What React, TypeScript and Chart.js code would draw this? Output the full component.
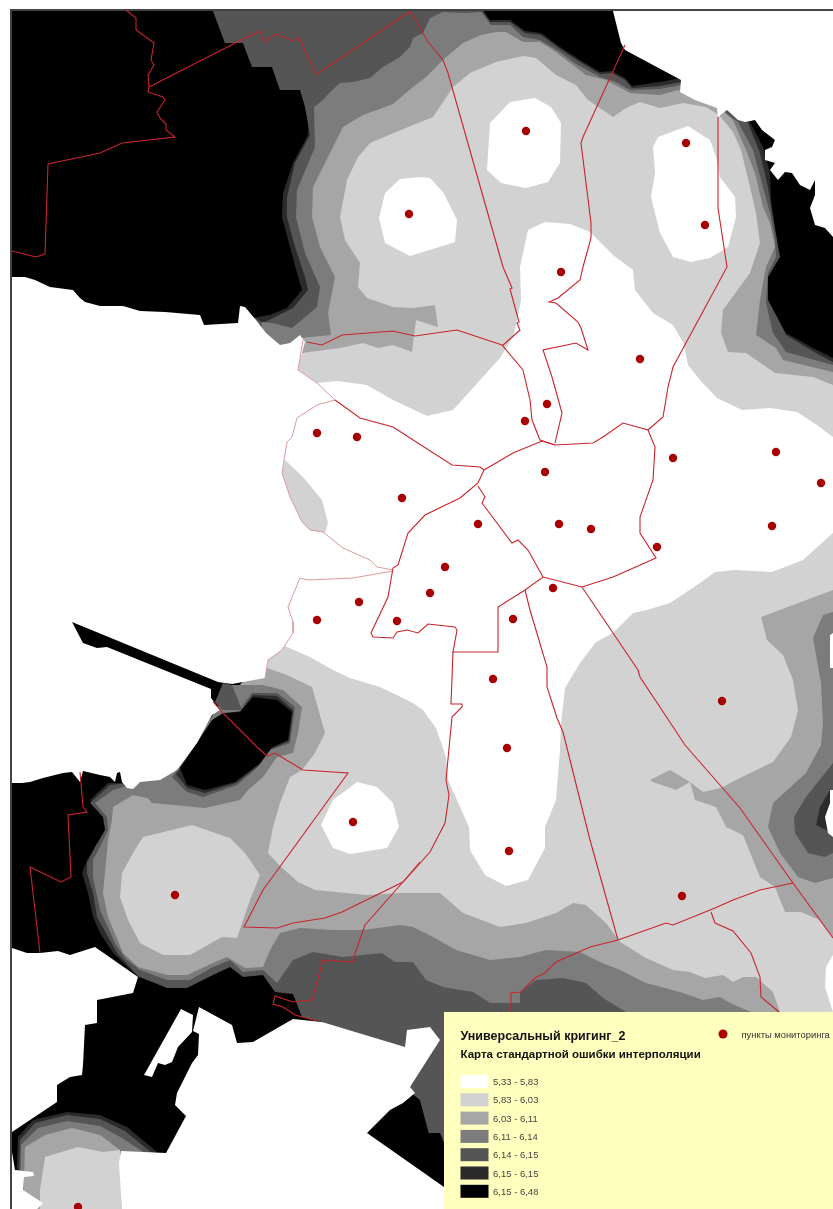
import React, { useEffect, useRef } from "react";
import { Chart, registerables } from "chart.js";

Chart.register(...registerables);

type P = number[];

const frameOutline: P[] = [[11, 1209], [11, 10], [833, 10]];
const territory: P[] = [[12, 11], [833, 11], [833, 1209], [12, 1209]];

const level615: P[] = [[213,11],[483,11],[490,20],[510,20],[525,31],[541,33],[560,47],[580,60],[600,72],[612,71],[625,78],[632,86],[660,82],[681,78],[700,96],[745,115],[750,122],[763,147],[770,173],[771,200],[775,227],[779,257],[768,277],[768,300],[786,333],[813,348],[833,358],[833,1209],[444,1209],[444,1190],[420,1100],[323,1022],[302,1015],[293,992],[275,990],[265,972],[243,975],[230,965],[213,973],[187,987],[167,987],[138,977],[113,953],[100,933],[93,917],[88,893],[82,873],[87,860],[98,843],[107,830],[105,817],[90,800],[108,783],[130,783],[205,735],[235,690],[265,660],[252,400],[252,318],[270,315],[287,308],[302,290],[297,273],[290,247],[282,217],[283,193],[293,163],[308,135],[308,113],[300,90],[280,90],[272,67],[252,67],[243,43],[225,43]];

const level614: P[] = [[213,11],[483,11],[490,22],[510,22],[525,33],[541,35],[560,49],[580,62],[600,74],[612,73],[625,80],[632,88],[660,86],[681,82],[700,96],[745,118],[748,123],[760,153],[768,187],[772,213],[777,240],[780,257],[768,277],[768,300],[786,335],[816,353],[833,362],[833,1209],[444,1209],[444,1190],[420,1100],[323,1022],[302,1017],[293,994],[275,992],[263,975],[243,977],[230,967],[213,975],[187,988],[167,988],[138,976],[117,953],[97,917],[93,893],[87,873],[87,863],[95,847],[105,830],[103,817],[90,803],[110,785],[130,783],[205,735],[235,690],[265,660],[258,400],[255,318],[263,323],[273,318],[293,308],[308,290],[305,277],[295,247],[287,217],[287,197],[295,163],[310,135],[305,107],[300,90],[280,90],[272,67],[252,67],[243,43],[225,43]];

const level611: P[] = [[413,38],[423,33],[430,18],[443,12],[466,13],[481,12],[491,25],[510,25],[523,37],[540,40],[560,52],[576,64],[600,77],[616,82],[630,90],[660,89],[681,85],[700,96],[738,122],[753,150],[763,187],[770,213],[775,240],[776,257],[768,273],[766,303],[773,333],[786,352],[833,365],[833,1209],[444,1209],[444,1100],[626,1012],[603,998],[586,983],[563,978],[536,980],[520,992],[520,1003],[490,1003],[473,992],[443,987],[426,980],[413,962],[395,962],[382,953],[343,957],[313,952],[293,960],[277,983],[263,970],[243,972],[230,960],[213,967],[190,980],[167,980],[140,970],[125,958],[115,943],[100,910],[93,877],[93,860],[100,847],[108,830],[107,817],[95,803],[113,790],[130,785],[205,735],[235,690],[265,660],[262,400],[262,322],[273,323],[292,328],[317,307],[320,287],[305,253],[296,217],[297,190],[315,147],[314,107],[323,100],[330,92],[340,83],[353,82],[370,78],[383,67],[400,57],[410,47]];

const level603: P[] = [[331,335],[328,313],[335,277],[320,247],[312,217],[313,187],[335,143],[343,127],[363,115],[393,104],[413,87],[426,77],[445,58],[463,43],[481,35],[496,32],[506,32],[523,42],[540,42],[553,50],[573,65],[586,75],[606,80],[630,93],[660,95],[678,90],[695,97],[717,105],[733,120],[746,150],[755,173],[763,207],[770,223],[775,247],[766,267],[760,300],[756,335],[776,348],[783,360],[833,372],[833,1012],[751,1012],[730,1003],[720,997],[703,1000],[680,992],[646,983],[620,970],[600,962],[580,952],[546,950],[520,957],[490,960],[456,950],[433,937],[413,927],[400,925],[363,930],[333,930],[300,928],[280,933],[270,950],[263,967],[245,968],[227,957],[213,963],[187,975],[167,975],[138,967],[123,953],[108,917],[103,893],[108,840],[112,820],[113,807],[133,795],[148,798],[152,803],[165,790],[200,735],[235,690],[265,660],[270,400],[300,338]];

const level583: P[] = [[453,87],[470,73],[496,62],[523,56],[536,58],[556,75],[576,85],[588,100],[613,117],[626,108],[640,102],[660,108],[683,103],[706,107],[719,115],[733,132],[741,150],[750,187],[756,213],[760,243],[750,273],[723,310],[721,333],[728,352],[746,353],[775,373],[813,377],[833,385],[833,590],[801,602],[761,617],[767,640],[783,655],[793,680],[798,710],[791,737],[773,762],[736,780],[721,788],[703,792],[690,782],[695,800],[716,807],[726,827],[743,835],[760,877],[775,887],[785,912],[801,912],[820,920],[833,937],[833,1012],[780,1012],[773,992],[756,977],[743,977],[733,982],[723,975],[705,978],[690,972],[673,970],[646,958],[620,942],[606,923],[586,905],[573,903],[556,913],[526,923],[500,927],[463,913],[440,893],[400,893],[367,895],[315,890],[298,882],[280,866],[268,853],[273,827],[280,803],[290,777],[302,770],[315,753],[325,733],[312,687],[287,675],[267,668],[262,660],[275,500],[290,365],[302,353],[340,348],[363,343],[378,348],[393,345],[412,352],[416,320],[438,327],[435,305],[413,308],[393,307],[367,298],[358,287],[360,263],[345,240],[340,217],[347,180],[358,157],[370,143],[413,125],[433,117]];

const level583SouthWest: P[] = [[143,837],[192,825],[230,838],[245,853],[260,875],[250,900],[237,938],[222,937],[190,955],[163,955],[140,943],[128,920],[120,897],[122,873],[133,853]];
const level583West: P[] = [[285,460],[303,477],[322,500],[328,523],[325,533],[310,530],[302,522],[290,497],[282,473]];

const level533Centre: P[] = [[285,390],[317,383],[337,381],[367,385],[393,400],[427,416],[453,410],[500,358],[513,337],[516,325],[521,300],[520,267],[528,230],[545,222],[570,224],[590,232],[613,255],[633,270],[635,290],[653,313],[673,325],[683,342],[688,365],[700,380],[717,398],[742,410],[770,408],[797,412],[817,425],[833,437],[833,533],[803,560],[772,572],[735,570],[715,572],[700,583],[670,603],[647,610],[633,613],[613,633],[596,642],[580,663],[565,688],[561,723],[560,750],[556,800],[545,827],[545,848],[528,880],[506,886],[485,875],[470,850],[469,827],[448,780],[446,757],[436,728],[423,710],[413,703],[380,687],[350,678],[333,670],[310,657],[287,647],[270,640]];
const level533NorthWest: P[] = [[385,193],[400,179],[420,177],[430,178],[443,192],[457,220],[455,242],[436,248],[413,255],[410,256],[385,243],[379,218]];
const level533North: P[] = [[490,123],[510,102],[535,98],[551,107],[561,123],[560,163],[548,182],[526,188],[501,183],[487,170]];
const level533NorthEast: P[] = [[653,147],[658,137],[688,126],[710,140],[716,157],[720,177],[735,197],[736,217],[728,247],[710,258],[691,262],[673,257],[660,233],[651,197],[655,173]];
const level533South: P[] = [[357,782],[377,787],[393,803],[399,827],[387,848],[350,854],[333,848],[321,825],[333,800]];

const bay603: P[] = [[650,780],[670,770],[690,782],[676,790],[653,782]];
const lake611: P[] = [[125,785],[133,795],[148,798],[152,803],[205,808],[240,800],[248,790],[263,777],[277,757],[293,753],[298,733],[302,707],[283,690],[263,685],[232,685],[200,735],[160,775]];
const spit614: P[] = [[223,683],[232,685],[242,710],[222,710],[215,702]];
const lake614: P[] = [[172,777],[187,792],[203,797],[237,785],[258,767],[270,750],[290,743],[295,707],[277,693],[252,693],[243,705],[240,712],[220,715],[205,735]];
const lake615: P[] = [[176,774],[187,788],[205,793],[236,783],[259,765],[271,749],[289,741],[293,710],[277,696],[253,695],[241,711],[222,714],[208,735]];
const lake648: P[] = [[180,768],[187,785],[205,790],[235,782],[260,763],[272,747],[288,740],[292,712],[277,700],[253,697],[240,712],[223,713],[212,720]];
const east611: P[] = [[833,612],[823,615],[813,638],[821,683],[823,723],[821,745],[806,773],[773,803],[768,827],[780,853],[798,877],[815,883],[833,878]];
const east614: P[] = [[833,763],[806,797],[794,817],[795,833],[808,853],[825,857],[833,853]];
const east615: P[] = [[830,790],[820,807],[816,825],[826,830],[833,833]];
const southEast648: P[] = [[367,1133],[390,1110],[413,1110],[422,1133],[440,1133],[444,1143],[444,1190]];

const blob615: P[] = [[15,1209],[18,1137],[33,1120],[67,1112],[100,1115],[127,1127],[157,1152],[122,1209]];
const blob614: P[] = [[18,1209],[20,1140],[35,1123],[67,1115],[100,1119],[125,1131],[152,1153],[122,1209]];
const blob611: P[] = [[20,1209],[21,1145],[38,1128],[67,1121],[100,1126],[122,1138],[145,1153],[122,1209]];
const blob603: P[] = [[23,1209],[25,1147],[45,1135],[72,1128],[100,1135],[120,1150],[122,1209]];
const blob583: P[] = [[40,1209],[40,1190],[45,1157],[78,1147],[103,1152],[120,1150],[122,1209]];

const outsideNorthEast: P[] = [[613,11],[621,43],[625,50],[681,80],[680,92],[695,100],[717,108],[718,117],[727,110],[738,120],[745,122],[755,120],[762,130],[775,140],[772,147],[765,150],[765,160],[775,163],[770,170],[778,180],[785,172],[792,173],[800,185],[810,190],[815,180],[815,195],[810,208],[815,225],[825,228],[833,237],[833,11]];
const outsideWest: P[] = [[12,277],[25,277],[35,280],[50,287],[73,290],[80,298],[85,302],[100,306],[123,306],[140,311],[165,312],[200,315],[204,325],[238,323],[240,306],[245,307],[256,320],[266,333],[280,345],[290,343],[300,335],[305,342],[300,360],[298,370],[317,383],[335,400],[317,405],[297,418],[292,437],[287,442],[282,473],[290,497],[302,522],[310,530],[323,532],[343,548],[370,560],[377,567],[393,570],[353,578],[308,580],[300,578],[288,607],[293,622],[293,633],[282,650],[268,660],[265,678],[232,684],[218,682],[72,622],[83,643],[97,648],[107,647],[211,689],[211,698],[220,710],[212,715],[197,743],[177,770],[160,780],[140,782],[133,789],[127,788],[122,782],[120,772],[117,773],[115,782],[110,777],[100,775],[83,771],[80,782],[72,772],[63,773],[43,778],[30,782],[22,783],[12,783]];
const outsideSouthWest: P[] = [[12,948],[27,953],[40,953],[58,951],[70,955],[95,947],[138,977],[133,993],[97,1000],[97,1023],[85,1025],[83,1065],[82,1075],[70,1077],[57,1085],[57,1102],[12,1132]];
const outsideSouth: P[] = [[322,1022],[405,1047],[407,1030],[430,1027],[440,1040],[410,1087],[415,1093],[403,1103],[390,1110],[367,1133],[444,1187],[444,1209],[122,1209],[119,1163],[121,1151],[166,1153],[186,1116],[175,1105],[177,1093],[192,1063],[198,1055],[199,1034],[193,1031],[199,1007],[232,1025],[237,1043],[253,1042],[293,1019]];
const outsideInlet: P[] = [[181,1009],[193,1015],[192,1032],[178,1047],[172,1062],[165,1065],[158,1063],[152,1077],[144,1075]];
const outsideCorner: P[] = [[12,1152],[15,1170],[33,1172],[34,1176],[24,1177],[23,1190],[43,1203],[37,1209],[12,1209]];
const outsideEastA: P[] = [[830,635],[833,633],[833,668],[830,668]];
const outsideEastB: P[] = [[830,790],[833,790],[833,837],[828,833],[825,817],[830,803]];
const outsideEastC: P[] = [[833,955],[826,967],[825,987],[833,1012]];

const boundaries: P[][] = [
  [[126,10],[136,18],[136,30],[154,43],[151,60],[154,65],[148,75],[149,88],[148,92],[163,97],[165,100],[157,112],[160,118],[166,124],[166,130],[175,137],[122,143],[100,153],[48,164],[45,254],[36,257],[12,251]],
  [[149,87],[243,39],[260,31],[264,42],[276,34],[293,41],[299,37],[316,75],[409,12],[413,15],[428,42],[443,60],[448,73],[503,267],[512,288],[510,289],[519,322],[517,323],[520,330],[502,346]],
  [[307,342],[322,345],[342,335],[393,331],[415,336],[457,330],[502,345],[523,370],[530,400],[532,420],[540,440],[555,445],[593,443],[603,437],[623,423],[648,430],[655,447],[653,480],[640,517],[640,533],[656,558],[613,577],[582,587],[543,577],[525,590],[498,607],[498,652],[453,652],[457,630],[455,627],[428,624],[418,633],[407,630],[397,632],[393,638],[373,637],[371,633],[388,597],[393,568],[398,565],[408,533],[425,515],[460,498],[478,483],[484,470],[480,467],[452,465],[393,427],[360,418],[335,400]],
  [[484,470],[513,453],[542,441],[555,445]],
  [[478,486],[485,497],[482,503],[512,543],[518,540],[528,550],[543,577]],
  [[625,45],[583,137],[581,143],[591,223],[591,238],[583,267],[580,280],[558,298],[549,302],[556,303],[578,322],[581,328],[588,350],[576,343],[543,350],[552,377],[562,413],[555,443]],
  [[648,430],[663,417],[668,387],[673,367],[727,267],[718,208],[718,117]],
  [[582,587],[613,633],[638,670],[640,677],[685,745],[740,808],[793,883],[833,938]],
  [[793,883],[760,890],[733,900],[715,908],[673,925],[666,923],[618,940],[590,947],[556,962],[545,973],[535,978],[521,992],[511,993],[511,1012]],
  [[711,912],[715,923],[733,931],[751,953],[760,977],[761,997],[779,1012]],
  [[525,590],[530,610],[547,667],[547,687],[557,718],[563,732],[590,840],[618,940]],
  [[453,652],[451,704],[462,704],[462,707],[452,717],[446,780],[449,795],[445,823],[430,852],[413,871],[403,882],[365,925],[352,962],[323,960],[312,1000],[293,1002],[275,996],[273,1004],[283,1007],[295,1015],[317,1021]],
  [[420,862],[403,882],[342,912],[325,918],[293,923],[277,928],[244,927],[263,890],[348,773],[303,770],[283,758],[275,753],[267,756],[257,747],[223,713],[213,702]],
  [[80,772],[83,807],[87,812],[68,815],[71,877],[61,882],[30,867],[40,953]],
];
const coastBoundaries: P[][] = [
  [[303,340],[298,370],[317,383],[335,400],[317,405],[297,418],[292,437],[287,442],[282,473],[290,497],[302,522],[310,530],[323,532],[343,548],[370,560],[377,567],[393,570]],
  [[393,571],[353,578],[308,580],[300,578],[288,607],[293,622],[293,633],[282,650],[268,660],[265,678]],
];

const monitoringX = [409,526,686,705,561,640,547,525,317,357,402,545,673,776,821,772,657,559,591,478,445,430,397,359,317,513,553,493,507,509,722,682,353,175,78];
const monitoringY = [214,131,143,225,272,359,404,421,433,437,498,472,458,452,483,526,547,524,529,524,567,593,621,602,620,619,588,679,748,851,701,896,822,895,1207];

const legendTitle = "Универсальный кригинг_2";
const legendSubtitle = "Карта стандартной ошибки интерполяции";
const legendPointLabel = "пункты мониторинга";
const classLabels = ["5,33 - 5,83", "5,83 - 6,03", "6,03 - 6,11", "6,11 - 6,14", "6,14 - 6,15", "6,15 - 6,15", "6,15 - 6,48"];
const classColors = ["#ffffff", "#d2d2d2", "#a6a6a6", "#7c7c7c", "#555555", "#2b2b2b", "#000000"];

const WHITE = classColors[0], C583 = classColors[1], C603 = classColors[2], C611 = classColors[3], C614 = classColors[4], C615 = classColors[5], C648 = classColors[6];
const RED = "#a80000";

const toXY = (pts: P[]) => pts.map(([x, y]) => ({ x, y }));

const layers: [P[], string][] = [
  [territory, C648],
  [level615, C615], [level614, C614], [level611, C611], [level603, C603],
  [lake611, C611], [spit614, C614], [lake614, C614], [lake615, C615], [lake648, C648],
  [east611, C611], [east614, C614], [east615, C615],
  [southEast648, C648],
  [blob615, C615], [blob614, C614], [blob611, C611], [blob603, C603], [blob583, C583],
  [level583, C583], [level583SouthWest, C583],
  [bay603, C603],
  [level533Centre, WHITE], [level533NorthWest, WHITE], [level533North, WHITE], [level533NorthEast, WHITE], [level533South, WHITE],
  [level583West, C583],
  [outsideNorthEast, WHITE], [outsideWest, WHITE], [outsideSouthWest, WHITE], [outsideSouth, WHITE], [outsideInlet, WHITE], [outsideCorner, WHITE],
  [outsideEastA, WHITE], [outsideEastB, WHITE], [outsideEastC, WHITE],
];

const legendPlugin = {
  id: "mapLegend",
  afterDatasetsDraw(chart: any) {
    const { ctx, scales } = chart;
    const px = (v: number) => scales.x.getPixelForValue(v);
    const py = (v: number) => scales.y.getPixelForValue(v);
    ctx.save();
    ctx.fillStyle = "#ffffbe";
    ctx.fillRect(px(444), py(1012), px(833) - px(444), py(1209) - py(1012));
    ctx.textBaseline = "alphabetic";
    ctx.fillStyle = "#111111";
    ctx.font = "bold 12.5px 'Liberation Sans'";
    ctx.fillText(legendTitle, px(460.5), py(1040));
    ctx.font = "bold 11.5px 'Liberation Sans'";
    ctx.fillText(legendSubtitle, px(460.5), py(1058));
    ctx.fillStyle = "#333333";
    ctx.font = "9.4px 'Liberation Sans'";
    ctx.fillText(legendPointLabel, px(741.5), py(1038));
    ctx.fillStyle = RED;
    ctx.beginPath();
    ctx.arc(px(723), py(1034), 4.5, 0, Math.PI * 2);
    ctx.fill();
    classLabels.forEach((label, i) => {
      const top = 1075 + i * 18.3;
      ctx.fillStyle = classColors[i];
      ctx.fillRect(px(460.5), py(top), 28, 13);
      ctx.fillStyle = "#444444";
      ctx.font = "9.5px 'Liberation Sans'";
      ctx.fillText(label, px(493), py(top + 10));
    });
    ctx.restore();
  },
};

export default function App() {
  const ref = useRef<HTMLCanvasElement>(null);
  useEffect(() => {
    document.body.style.background = "#ffffff";
    const polys = layers.map(([pts, color]) => ({
      type: "scatter" as const,
      data: toXY(pts),
      showLine: true,
      fill: "shape",
      backgroundColor: color,
      borderWidth: 0,
      borderColor: color,
      pointRadius: 0,
    }));
    const line = (pts: P[], color: string, width: number) => ({
      data: toXY(pts),
      showLine: true,
      fill: false,
      borderColor: color,
      borderWidth: width,
      pointRadius: 0,
    });
    const all: any[] = [
      ...polys,
      line(frameOutline, "#444444", 2),
      ...coastBoundaries.map((b) => line(b, "#dc9a9c", 1)),
      ...boundaries.map((b) => line(b, "#c9242c", 1.1)),
      {
        data: monitoringX.map((x, i) => ({ x, y: monitoringY[i] })),
        showLine: false,
        pointRadius: 4.2,
        pointBackgroundColor: RED,
        pointBorderWidth: 0,
      },
    ];
    all.forEach((d, i) => (d.order = all.length - i));
    const chart = new Chart(ref.current as HTMLCanvasElement, {
      type: "scatter",
      data: { datasets: all },
      options: {
        animation: false,
        responsive: false,
        devicePixelRatio: 1,
        layout: { padding: 0, autoPadding: false },
        plugins: { legend: { display: false }, tooltip: { enabled: false } },
        events: [],
        scales: {
          x: { type: "linear", min: 0, max: 833, display: false },
          y: { type: "linear", min: 0, max: 1209, reverse: true, display: false },
        },
      } as any,
      plugins: [legendPlugin],
    });
    return () => chart.destroy();
  }, []);
  return (
    <canvas
      ref={ref}
      width={833}
      height={1209}
      style={{ position: "absolute", left: 0, top: 0, width: 833, height: 1209 }}
    />
  );
}
